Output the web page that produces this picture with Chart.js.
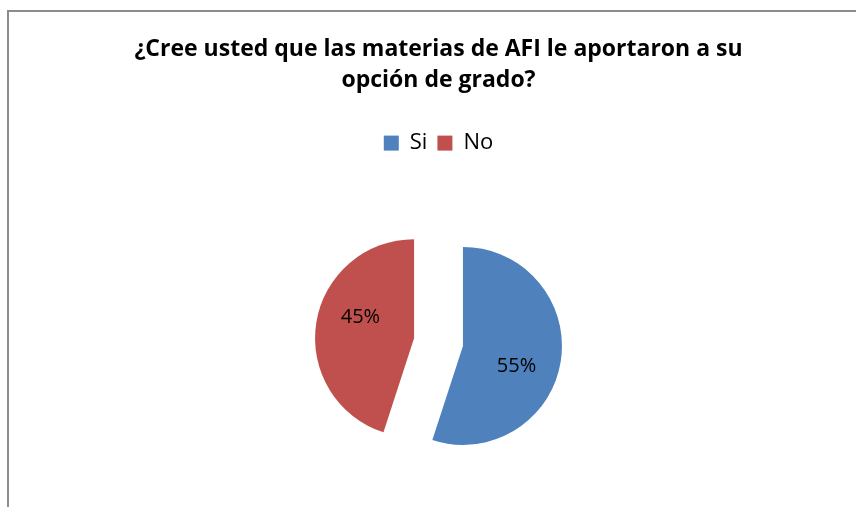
<!DOCTYPE html>
<html>
<head>
<meta charset="utf-8">
<script src="https://cdn.jsdelivr.net/npm/chart.js@4/dist/chart.umd.min.js"></script>
<style>
  html, body { margin: 0; padding: 0; background: #ffffff; overflow: hidden; width: 856px; height: 507px; }
  #frame { position: absolute; left: 7px; top: 10px; width: 900px; height: 600px; border-left: 2px solid #8c8c8c; border-top: 2px solid #8c8c8c; box-sizing: border-box; }
  #wrap { position: absolute; left: 8px; top: 10px; width: 859px; height: 520px; }
</style>
</head>
<body>
<div id="frame"></div>
<div id="wrap"><canvas id="c" width="859" height="520"></canvas></div>
<script>
const titleLines = ["¿Cree usted que las materias de AFI le aportaron a su", "opción de grado?"];
const categories = ["Si", "No"];
const percentages = [55, 45];
const sliceColors = ["#4F81BD", "#C0504D"];

// Exploded slices: move every slice outward along its bisector (25% of radius)
const explode = {
  id: 'explode',
  afterDatasetsUpdate(chart) {
    const meta = chart.getDatasetMeta(0);
    meta.data.forEach(arc => {
      const half = (arc.startAngle + arc.endAngle) / 2;
      const t = arc.outerRadius * 0.25;
      arc.x = arc.x + Math.cos(half) * t;
      arc.y = arc.y + Math.sin(half) * t;
    });
  }
};

const pieLabels = {
  id: 'pieLabels',
  afterDatasetsDraw(chart) {
    const ctx = chart.ctx;
    const meta = chart.getDatasetMeta(0);
    ctx.save();
    ctx.font = '20px "Open Sans"';
    ctx.fillStyle = '#000000';
    ctx.textAlign = 'center';
    ctx.textBaseline = 'middle';
    meta.data.forEach((arc, i) => {
      const half = (arc.startAngle + arc.endAngle) / 2;
      const a = half + 12 * Math.PI / 180;
      const r = arc.outerRadius * 0.58;
      ctx.fillText(percentages[i] + '%', arc.x + Math.cos(a) * r, arc.y + Math.sin(a) * r);
    });
    ctx.restore();
  }
};

new Chart(document.getElementById('c'), {
  type: 'pie',
  data: {
    labels: categories,
    datasets: [{
      data: percentages,
      backgroundColor: sliceColors,
      borderWidth: 0,
      radius: 99
    }]
  },
  options: {
    responsive: false,
    animation: false,
    layout: { padding: { top: 0, bottom: 10, left: 2, right: 0 } },
    plugins: {
      title: {
        display: true,
        text: titleLines,
        color: '#000000',
        font: { family: 'Open Sans', size: 23, weight: 'bold', lineHeight: 1.35 },
        padding: { top: 24, bottom: 26 }
      },
      legend: {
        display: true,
        position: 'top',
        labels: {
          color: '#000000',
          font: { family: 'Open Sans', size: 22 },
          boxWidth: 15,
          boxHeight: 15,
          padding: 10
        }
      },
      tooltip: { enabled: false }
    }
  },
  plugins: [explode, pieLabels]
});
</script>
</body>
</html>
